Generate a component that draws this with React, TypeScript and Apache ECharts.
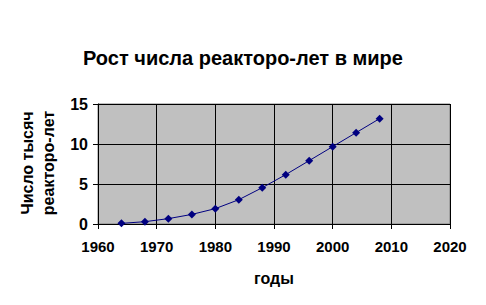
import React, { useEffect, useRef } from "react";
import * as echarts from "echarts";

const years = [1964, 1968, 1972, 1976, 1980, 1984, 1988, 1992, 1996, 2000, 2004, 2008];
const reactorYears = [0.08, 0.29, 0.67, 1.2, 1.92, 3.04, 4.54, 6.17, 7.92, 9.67, 11.42, 13.17];
const titleText = "Рост числа реакторо-лет в мире";
const xName = "годы";
const yNameLines = ["Число тысяч", "реакторо-лет"];

export default function App() {
  const ref = useRef<HTMLDivElement>(null);
  useEffect(() => {
    if (!ref.current) return;
    const chart = echarts.init(ref.current, null, { renderer: "svg" });
    const font = "Arial, 'Liberation Sans', sans-serif";
    chart.setOption({
      animation: false,
      backgroundColor: "#ffffff",
      textStyle: { fontFamily: font },
      title: {
        text: titleText,
        left: "center",
        top: 43,
        textStyle: { fontFamily: font, fontSize: 20, fontWeight: "bold", color: "#000" },
      },
      grid: {
        left: 98,
        right: 36,
        top: 104,
        bottom: 81,
        show: true,
        backgroundColor: "#C0C0C0",
        borderColor: "#808080",
        borderWidth: 1,
      },
      xAxis: {
        type: "value",
        min: 1960,
        max: 2020,
        interval: 10,
        name: xName,
        nameLocation: "middle",
        nameGap: 46,
        nameTextStyle: { fontFamily: font, fontSize: 16, fontWeight: "bold", color: "#000" },
        axisLine: { show: true, onZero: false, lineStyle: { color: "#000", width: 1 } },
        axisTick: { show: true, inside: false, length: 5, lineStyle: { color: "#000" } },
        axisLabel: {
          fontFamily: font,
          fontSize: 15,
          fontWeight: "bold",
          color: "#000",
          margin: 15,
          formatter: (v: number) => String(v),
        },
        splitLine: { show: true, lineStyle: { color: "#000", width: 1 } },
      },
      yAxis: {
        type: "value",
        min: 0,
        max: 15,
        interval: 5,
        axisLine: { show: true, lineStyle: { color: "#000", width: 1 } },
        axisTick: { show: true, inside: false, length: 5, lineStyle: { color: "#000" } },
        axisLabel: { fontFamily: font, fontSize: 16, fontWeight: "bold", color: "#000", margin: 10 },
        splitLine: { show: true, lineStyle: { color: "#000", width: 1 } },
      },
      graphic: [
        {
          type: "text",
          x: 38,
          y: 163,
          rotation: Math.PI / 2,
          style: {
            text: yNameLines.join("\n"),
            fontFamily: font,
            fontSize: 16,
            fontWeight: "bold",
            fill: "#000",
            align: "center",
            verticalAlign: "middle",
            lineHeight: 21,
          },
        },
      ],
      series: [
        {
          type: "line",
          data: years.map((y, i) => [y, reactorYears[i]]),
          symbol: "diamond",
          symbolSize: 8,
          lineStyle: { color: "#000080", width: 1 },
          itemStyle: { color: "#000080" },
        },
      ],
    });
    return () => chart.dispose();
  }, []);
  return <div ref={ref} style={{ width: 486, height: 305, margin: -8 }} />;
}
